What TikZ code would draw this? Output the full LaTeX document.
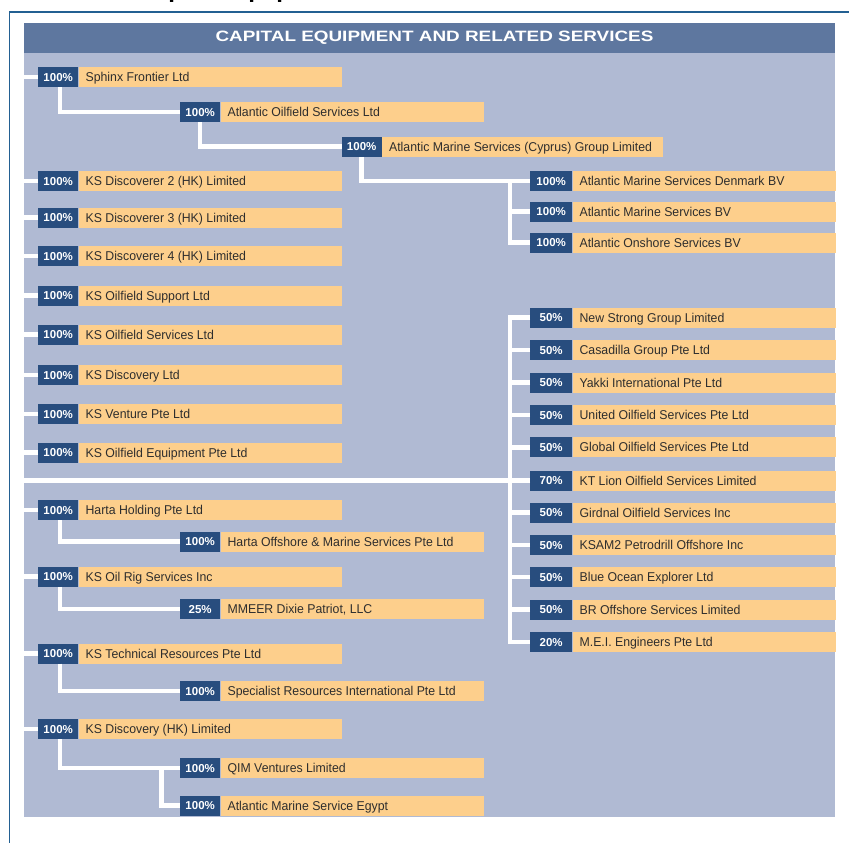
\documentclass[tikz,border=0pt]{standalone}
\usepackage{fontspec}
\setmainfont{Liberation Sans}
\newfontfamily\namefam[FakeStretch=0.96]{Liberation Sans}
\newfontfamily\titlefam[FakeStretch=1.26]{Liberation Sans}
\definecolor{panelbg}{HTML}{B0BAD3}
\definecolor{titlebar}{HTML}{5E779F}
\definecolor{pctblue}{HTML}{284D7E}
\definecolor{nameor}{HTML}{FDCF8C}
\definecolor{nametext}{HTML}{2E2E2E}
\definecolor{frameline}{HTML}{236092}
\tikzset{
  wl/.style={draw=white, line width=4.5pt, line join=miter},
  pctbox/.style={fill=pctblue, text=white, font=\bfseries\fontsize{11.5}{12}\selectfont,
    minimum height=20pt, inner sep=0pt, anchor=west, text height=8.3pt, text depth=0pt},
  namebox/.style={fill=nameor, text=nametext, font=\namefam\fontsize{12.8}{14}\selectfont,
    minimum height=20pt, inner xsep=7pt, inner ysep=0pt, anchor=west,
    text height=9.3pt, text depth=0pt},
}
% id, x, y, pct, name, pct width, text width
\newcommand\ent[7]{%
  \node[pctbox, minimum width=#6pt] (#1p) at (#2,#3) {#4};
  \node[namebox] (#1) at (#1p.east) {\makebox[#7pt][l]{#5}};}
\begin{document}
\begin{tikzpicture}[x=1pt,y=-1pt]
\useasboundingbox (0,0) rectangle (849,843);
% cut-off heading above the frame
\begin{scope}
  \clip (0,0) rectangle (849,4);
  \node[anchor=base west, inner sep=0pt, font=\bfseries\fontsize{24}{26}\selectfont, text=black] (head) at (137.6,-2) {Capital Equipment};
\end{scope}
% frame
\draw[frameline, line width=1.3pt] (9.5,843) -- (9.5,12) -- (849,12);
% panel
\fill[panelbg] (24,23) rectangle (835,817);
\fill[titlebar] (24,23) rectangle (835,53);
\node[text=white, font=\titlefam\bfseries\fontsize{15}{16}\selectfont, inner sep=0pt] (title) at (434.5,38) {CAPITAL EQUIPMENT AND RELATED SERVICES};
\coordinate (lm) at (24,0);
\coordinate (rv) at (510,0);
\coordinate (bv) at (161.5,0);

% entities
\ent{sphinx}{38}{77}{100\%}{Sphinx Frontier Ltd}{40}{249}
\ent{aosl}{180}{112}{100\%}{Atlantic Oilfield Services Ltd}{40}{249}
\ent{cyprus}{341.5}{146.7}{100\%}{Atlantic Marine Services (Cyprus) Group Limited}{40}{267}
\ent{denmark}{530}{181}{100\%}{Atlantic Marine Services Denmark BV}{42}{249}
\ent{amsbv}{530}{211.7}{100\%}{Atlantic Marine Services BV}{42}{249}
\ent{onshore}{530}{242.7}{100\%}{Atlantic Onshore Services BV}{42}{249}
\ent{ksdtwo}{38}{181}{100\%}{KS Discoverer 2 (HK) Limited}{40}{249}
\ent{ksdthree}{38}{217.5}{100\%}{KS Discoverer 3 (HK) Limited}{40}{249}
\ent{ksdfour}{38}{256}{100\%}{KS Discoverer 4 (HK) Limited}{40}{249}
\ent{ksos}{38}{295.5}{100\%}{KS Oilfield Support Ltd}{40}{249}
\ent{ksoserv}{38}{334.5}{100\%}{KS Oilfield Services Ltd}{40}{249}
\ent{ksdisc}{38}{375}{100\%}{KS Discovery Ltd}{40}{249}
\ent{ksvent}{38}{414}{100\%}{KS Venture Pte Ltd}{40}{249}
\ent{ksoe}{38}{452.5}{100\%}{KS Oilfield Equipment Pte Ltd}{40}{249}
\ent{harta}{38}{510}{100\%}{Harta Holding Pte Ltd}{40}{249}
\ent{hartaoff}{180}{541.7}{100\%}{Harta Offshore \& Marine Services Pte Ltd}{40}{249}
\ent{ksoilrig}{38}{576.7}{100\%}{KS Oil Rig Services Inc}{40}{249}
\ent{mmeer}{180}{609}{25\%}{MMEER Dixie Patriot, LLC}{40}{249}
\ent{kstech}{38}{653.5}{100\%}{KS Technical Resources Pte Ltd}{40}{249}
\ent{specialist}{180}{691}{100\%}{Specialist Resources International Pte Ltd}{40}{249}
\ent{ksdhk}{38}{729}{100\%}{KS Discovery (HK) Limited}{40}{249}
\ent{qim}{180}{768}{100\%}{QIM Ventures Limited}{40}{249}
\ent{egypt}{180}{805.7}{100\%}{Atlantic Marine Service Egypt}{40}{249}
\ent{newstrong}{530}{317.5}{50\%}{New Strong Group Limited}{42}{249}
\ent{casadilla}{530}{350}{50\%}{Casadilla Group Pte Ltd}{42}{249}
\ent{yakki}{530}{382.7}{50\%}{Yakki International Pte Ltd}{42}{249}
\ent{united}{530}{415}{50\%}{United Oilfield Services Pte Ltd}{42}{249}
\ent{global}{530}{447.3}{50\%}{Global Oilfield Services Pte Ltd}{42}{249}
\ent{ktlion}{530}{480.5}{70\%}{KT Lion Oilfield Services Limited}{42}{249}
\ent{girdnal}{530}{512.5}{50\%}{Girdnal Oilfield Services Inc}{42}{249}
\ent{ksamtwo}{530}{545}{50\%}{KSAM2 Petrodrill Offshore Inc}{42}{249}
\ent{blueocean}{530}{577}{50\%}{Blue Ocean Explorer Ltd}{42}{249}
\ent{bro}{530}{609.5}{50\%}{BR Offshore Services Limited}{42}{249}
\ent{mei}{530}{642}{20\%}{M.E.I. Engineers Pte Ltd}{42}{249}

% connectors
\foreach \n in {sphinx,ksdtwo,ksdthree,ksdfour,ksos,ksoserv,ksdisc,ksvent,ksoe,harta,ksoilrig,kstech,ksdhk}
  \draw[wl] (\n p.west) -- (\n p.west -| lm);
\draw[wl] ([xshift=2pt]sphinxp.south) |- (aoslp.west);
\draw[wl] (aoslp.south) |- (cyprusp.west);
\draw[wl] (cyprusp.south) |- (denmarkp.west);
\draw[wl] (denmarkp.west -| rv) |- (onshorep.west);
\draw[wl] (amsbvp.west) -- (amsbvp.west -| rv);
\draw[wl] (newstrongp.west) -| (rv |- meip.west) -- (meip.west);
\foreach \n in {casadilla,yakki,united,global,girdnal,ksamtwo,blueocean,bro}
  \draw[wl] (\n p.west) -- (\n p.west -| rv);
\draw[wl] (ktlionp.west) -- (ktlionp.west -| lm);
\draw[wl] ([xshift=2pt]hartap.south) |- (hartaoffp.west);
\draw[wl] ([xshift=2pt]ksoilrigp.south) |- (mmeerp.west);
\draw[wl] ([xshift=2pt]kstechp.south) |- (specialistp.west);
\draw[wl] ([xshift=2pt]ksdhkp.south) |- (qimp.west);
\draw[wl] (qimp.west -| bv) |- (egyptp.west);
\end{tikzpicture}
\end{document}
